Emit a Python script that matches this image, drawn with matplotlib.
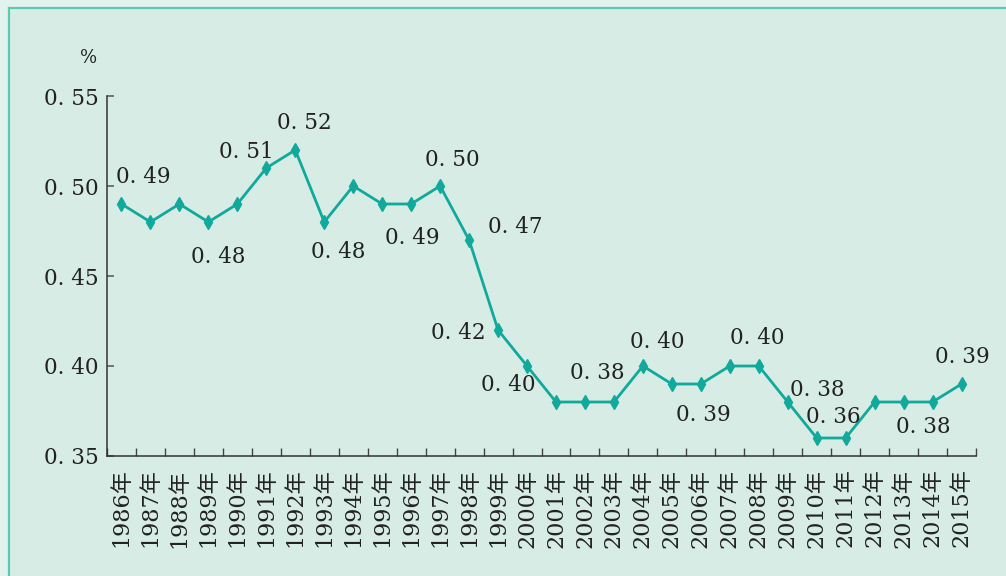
import matplotlib
matplotlib.use("Agg")
import matplotlib.pyplot as plt
from matplotlib.patches import Rectangle
from matplotlib.lines import Line2D
from matplotlib.ticker import FixedLocator

years = [f"{y}年" for y in range(1986, 2016)]
values = [0.49, 0.48, 0.49, 0.48, 0.49, 0.51, 0.52, 0.48, 0.50, 0.49,
          0.49, 0.50, 0.47, 0.42, 0.40, 0.38, 0.38, 0.38, 0.40, 0.39,
          0.39, 0.40, 0.40, 0.38, 0.36, 0.36, 0.38, 0.38, 0.38, 0.39]
y_ticks = [0.35, 0.40, 0.45, 0.50, 0.55]
y_tick_labels = ["0. 35", "0. 40", "0. 45", "0. 50", "0. 55"]

# indices of labelled points and their label offsets (pixels)
label_idx = [0, 3, 5, 6, 7, 10, 11, 12, 13, 14, 16, 18, 20, 22, 23, 24, 28, 29]
label_off = [(22, 27), (10, -35), (-20, 16), (9, 27), (14, -30), (1, -34),
             (12, 26), (46, 13), (-40, -3), (-19, -19), (12, 29), (14, 24),
             (3, -31), (-1, 28), (30, 12), (17, 21), (-9, -25), (1, 27)]

W, H = 1006, 576
fig = plt.figure(figsize=(W / 100, H / 100), dpi=100)
fig.patch.set_facecolor("#e2f2ee")

fig.patches.append(Rectangle((9 / W, 0), 1, 1 - 8 / H, transform=fig.transFigure,
                             facecolor="#d7ece5", edgecolor="none", zorder=-10))
fig.lines.append(Line2D([9 / W, 9 / W], [0, 1 - 8 / H], transform=fig.transFigure,
                        color="#5ccaae", lw=1.6, zorder=-5))
fig.lines.append(Line2D([9 / W, 1], [1 - 8 / H, 1 - 8 / H], transform=fig.transFigure,
                        color="#5ccaae", lw=1.6, zorder=-5))

ax = fig.add_axes([107 / W, 1 - 456 / H, (976 - 107) / W, (456 - 96) / H])
ax.set_facecolor("none")
ax.set_zorder(5)

fam = ["DejaVu Serif", "Noto Sans CJK SC"]
tc = "#222222"
lc = "#10a99b"
fs = 15.5

x = list(range(len(values)))
ax.plot(x, values, color=lc, lw=2.0, marker="d", markersize=7.5,
        markerfacecolor=lc, markeredgecolor=lc, zorder=3, clip_on=False)

for i, (dx, dy) in zip(label_idx, label_off):
    ax.annotate(f"{values[i]:.2f}".replace(".", ". "), (i, values[i]),
                xytext=(dx, dy), textcoords="offset pixels",
                ha="center", va="center", fontsize=fs, family=fam, color=tc)

ax.set_xlim(-0.5, len(values) - 0.5)
ax.set_ylim(0.35, 0.55)

for s in ["top", "right"]:
    ax.spines[s].set_visible(False)
for s in ["left", "bottom"]:
    ax.spines[s].set_color("#333333")
    ax.spines[s].set_linewidth(1.1)

ax.set_yticks(y_ticks)
ax.set_yticklabels(y_tick_labels, family=fam, fontsize=fs, color=tc)
ax.tick_params(axis="y", direction="in", length=5, width=1.1, color="#555555", pad=6)

ax.set_xticks(x)
ax.set_xticklabels(years, rotation=90, family=fam, fontsize=16, color=tc)
ax.tick_params(axis="x", which="major", length=0, pad=9)
ax.xaxis.set_minor_locator(FixedLocator([k - 0.5 for k in range(len(values) + 1)]))
ax.tick_params(axis="x", which="minor", direction="in", length=6, width=1.0, color="#444444")

fig.text(89 / W, 1 - 58 / H, "%", ha="center", va="center", fontsize=13,
         family=fam, color=tc)

fig.savefig("out.png", dpi=100, facecolor=fig.get_facecolor())
